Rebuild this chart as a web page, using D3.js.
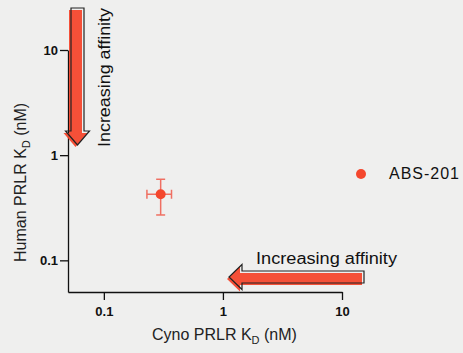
<!DOCTYPE html>
<html>
<meta charset="utf-8">
<style>
body { margin: 0; background: #efefee; }
svg { display: block; }
text { font-family: "Liberation Sans", Arial, sans-serif; }
.tick text { font-size: 13px; font-weight: bold; fill: #111; }
</style>
<script src="https://d3js.org/d3.v7.min.js"></script>
<body>
<div id="chart"></div>
<script>
// data
var seriesName = "ABS-201";
var cynoKd = [0.30];          // x, nM
var cynoErr = [[0.23, 0.37]];
var humanKd = [0.425];        // y, nM
var humanErr = [[0.27, 0.59]];
var majorTicks = [0.1, 1, 10];
var tickLabels = ["0.1", "1", "10"];
var minorTicks = [0.06, 0.07, 0.08, 0.09, 0.2, 0.3, 0.4, 0.5, 0.6, 0.7, 0.8, 0.9,
                  2, 3, 4, 5, 6, 7, 8, 9];
var yMinorTicks = [0.06, 0.07, 0.08, 0.09, 0.2, 0.3, 0.4, 0.5, 0.6, 0.7, 0.8, 0.9,
                   2, 3, 4, 5, 6, 7, 8, 9];

var width = 463, height = 353;
var red = "#f4472d";

var svg = d3.select("#chart").append("svg")
    .attr("width", width)
    .attr("height", height);

var x = d3.scaleLog().domain([0.05, 10]).range([68, 342]);
var y = d3.scaleLog().domain([0.05, 10]).range([292, 50]);

// axes: minor ticks then major ticks with labels
var fmt = function(d) { return tickLabels[majorTicks.indexOf(d)]; };

var gx = svg.append("g").attr("transform", "translate(0,292)");
gx.call(d3.axisBottom(x).tickValues(minorTicks).tickSize(4).tickFormat(""));
gx.call(d3.axisBottom(x).tickValues(majorTicks).tickSize(8).tickSizeOuter(0)
    .tickPadding(7).tickFormat(fmt));

var gy = svg.append("g").attr("transform", "translate(68,0)");
gy.call(d3.axisLeft(y).tickValues(yMinorTicks).tickSize(4).tickFormat(""));
gy.call(d3.axisLeft(y).tickValues(majorTicks).tickSize(8).tickSizeOuter(0)
    .tickPadding(2).tickFormat(fmt));

svg.selectAll(".domain, .tick line").attr("stroke", "#111").attr("stroke-width", 1.3);

// axis titles
var xt = svg.append("text").attr("x", 152).attr("y", 340)
    .attr("font-size", 16).attr("fill", "#222");
xt.append("tspan").text("Cyno PRLR K");
xt.append("tspan").attr("font-size", 11).attr("dy", 4).text("D");
xt.append("tspan").attr("dy", -4).text(" (nM)");

var yt = svg.append("text").attr("transform", "translate(26,262) rotate(-90)")
    .attr("font-size", 16).attr("fill", "#222");
yt.append("tspan").text("Human PRLR K");
yt.append("tspan").attr("font-size", 11).attr("dy", 4).text("D");
yt.append("tspan").attr("dy", -4).text(" (nM)");

// arrows
function arrowDown(cx, top, base, tip, sw, hw) {
    return [[cx - sw / 2, top], [cx + sw / 2, top], [cx + sw / 2, base], [cx + hw / 2, base],
            [cx, tip], [cx - hw / 2, base], [cx - sw / 2, base]];
}
function arrowLeft(cy, right, base, tip, sw, hw) {
    return [[right, cy - sw / 2], [right, cy + sw / 2], [base, cy + sw / 2], [base, cy + hw / 2],
            [tip, cy], [base, cy - hw / 2], [base, cy - sw / 2]];
}
var line = d3.line().curve(d3.curveLinearClosed);

var vArrow = arrowDown(77.5, 8, 131, 145, 13, 24);
var hArrow = arrowLeft(277, 364, 242, 229, 12, 25);
[vArrow, hArrow].forEach(function(pts) {
    svg.append("path").attr("d", line(pts)).attr("fill", red)
        .attr("transform", "translate(-2,2)").attr("opacity", 0.95);
    svg.append("path").attr("d", line(pts)).attr("fill", "none")
        .attr("stroke", "#222").attr("stroke-width", 1.2);
});

svg.append("text").attr("transform", "translate(110,147) rotate(-90)")
    .attr("font-size", 16).attr("fill", "#111")
    .attr("textLength", 139).attr("lengthAdjust", "spacingAndGlyphs")
    .text("Increasing affinity");
svg.append("text").attr("x", 256).attr("y", 264)
    .attr("font-size", 16).attr("fill", "#111")
    .attr("textLength", 141).attr("lengthAdjust", "spacingAndGlyphs")
    .text("Increasing affinity");

// error bars
var errColor = "#ef6f62";
var pts = cynoKd.map(function(d, i) {
    return { x: d, y: humanKd[i], xe: cynoErr[i], ye: humanErr[i] };
});
var eg = svg.append("g").attr("stroke", errColor).attr("stroke-width", 1.5);
pts.forEach(function(p) {
    eg.append("line").attr("x1", x(p.xe[0])).attr("x2", x(p.xe[1]))
        .attr("y1", y(p.y)).attr("y2", y(p.y));
    eg.append("line").attr("x1", x(p.x)).attr("x2", x(p.x))
        .attr("y1", y(p.ye[0])).attr("y2", y(p.ye[1]));
    [p.xe[0], p.xe[1]].forEach(function(v) {
        eg.append("line").attr("x1", x(v)).attr("x2", x(v))
            .attr("y1", y(p.y) - 4.5).attr("y2", y(p.y) + 4.5);
    });
    [p.ye[0], p.ye[1]].forEach(function(v) {
        eg.append("line").attr("y1", y(v)).attr("y2", y(v))
            .attr("x1", x(p.x) - 4.5).attr("x2", x(p.x) + 4.5);
    });
});
svg.selectAll(".pt").data(pts).enter().append("circle")
    .attr("cx", function(d) { return x(d.x); })
    .attr("cy", function(d) { return y(d.y); })
    .attr("r", 5).attr("fill", red);

// legend
svg.append("circle").attr("cx", 361).attr("cy", 174).attr("r", 5).attr("fill", red);
svg.append("text").attr("x", 389).attr("y", 179).attr("font-size", 16)
    .attr("fill", "#111").attr("textLength", 70).attr("lengthAdjust", "spacing")
    .text(seriesName);
</script>
</body>
</html>
